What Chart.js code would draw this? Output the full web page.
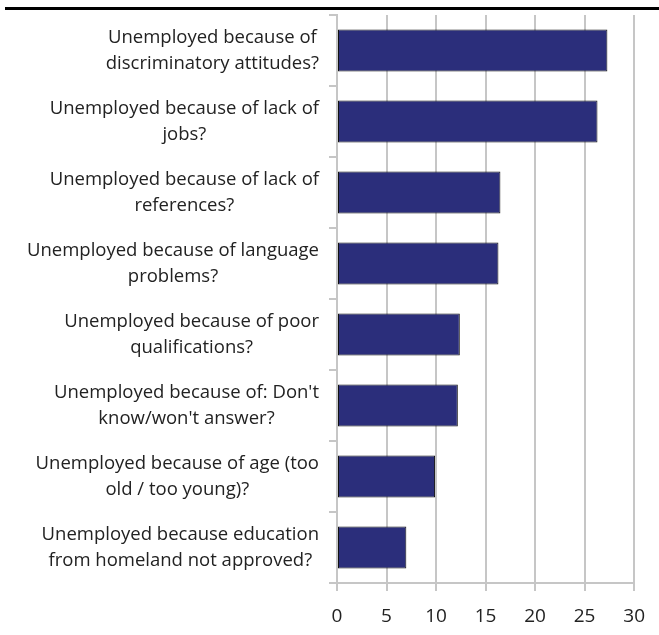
<!DOCTYPE html>
<html>
<head>
<meta charset="utf-8">
<script src="https://cdn.jsdelivr.net/npm/chart.js@4/dist/chart.umd.min.js"></script>
<style>
  html, body { margin: 0; padding: 0; background: #fff; }
  #wrap { position: relative; width: 659px; height: 635px; }
  #rule { position: absolute; left: 5px; top: 7px; width: 654px; height: 3px; background: #000; }
</style>
</head>
<body>
<div id="wrap">
  <div id="rule"></div>
  <canvas id="chart" width="659" height="635"></canvas>
</div>
<script>
  // Survey answers, share of respondents (%)
  const categories = [
    ['Unemployed because of', 'discriminatory attitudes?'],
    ['Unemployed because of lack of', 'jobs?'],
    ['Unemployed because of lack of', 'references?'],
    ['Unemployed because of language', 'problems?'],
    ['Unemployed because of poor', 'qualifications?'],
    ["Unemployed because of: Don't", "know/won't answer?"],
    ['Unemployed because of age (too', 'old / too young)?'],
    ['Unemployed because education', 'from homeland not approved?'],
  ];
  const values = [27.3, 26.3, 16.5, 16.3, 12.4, 12.2, 9.9, 7.0];
  const xTicks = [0, 5, 10, 15, 20, 25, 30];

  const FONT = '"Open Sans", sans-serif';
  const TEXT = '#222';
  const GRID = '#c6c6c6';

  // category labels: block right-aligned, lines centred within the block
  const labelPlugin = {
    id: 'catLabels',
    afterDraw(chart) {
      const ctx = chart.ctx;
      const y = chart.scales.y;
      const right = 319;
      const lineH = 25.5;
      ctx.save();
      ctx.font = '18.5px ' + FONT;
      ctx.fillStyle = TEXT;
      ctx.textAlign = 'center';
      ctx.textBaseline = 'middle';
      categories.forEach((lines, i) => {
        const cy = y.getPixelForValue(i);
        const w = Math.max(...lines.map(l => ctx.measureText(l).width));
        const cx = right - w / 2;
        const top = cy - (lines.length - 1) * lineH / 2;
        lines.forEach((l, j) => ctx.fillText(l, cx, top + j * lineH));
      });
      ctx.restore();
    }
  };

  new Chart(document.getElementById('chart'), {
    type: 'bar',
    data: {
      labels: categories.map(c => c.join(' ')),
      datasets: [{
        data: values,
        backgroundColor: '#2b2e7b',
        borderColor: '#111',
        borderWidth: 1,
        borderSkipped: false,
        categoryPercentage: 0.59,
        barPercentage: 1,
      }]
    },
    options: {
      indexAxis: 'y',
      responsive: false,
      animation: false,
      layout: { padding: { top: 15, right: 23, left: 0, bottom: 0 } },
      plugins: { legend: { display: false }, tooltip: { enabled: false } },
      scales: {
        x: {
          min: 0,
          max: 30,
          afterBuildTicks(scale) { scale.ticks = xTicks.map(v => ({ value: v })); },
          afterFit(scale) { scale.height = 52; },
          grid: { color: GRID, lineWidth: 2, tickLength: 8, drawTicks: true },
          border: { color: GRID, width: 2 },
          ticks: { color: TEXT, font: { family: FONT, size: 19 }, padding: 14, maxRotation: 0 },
        },
        y: {
          afterFit(scale) { scale.width = 337; },
          grid: { offset: true, drawOnChartArea: false, color: GRID, lineWidth: 2, tickLength: 8 },
          border: { color: GRID, width: 2 },
          ticks: { display: false },
        }
      }
    },
    plugins: [labelPlugin]
  });
</script>
</body>
</html>
